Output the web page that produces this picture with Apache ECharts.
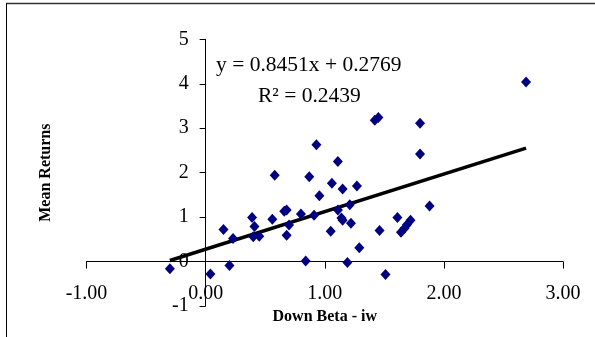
<!DOCTYPE html>
<html>
<head>
<meta charset="utf-8">
<script src="https://cdn.jsdelivr.net/npm/echarts@6/dist/echarts.min.js"></script>
<style>
    html, body { margin: 0; padding: 0; background: #fff; }
    #chart { width: 595px; height: 337px; }
</style>
</head>
<body>
<div id="chart"></div>
<script>
// Down Beta (x) and Mean Returns (y)
const downBeta = [-0.30, 0.04, 0.15, 0.20, 0.23, 0.39, 0.41, 0.40, 0.45, 0.56,
    0.58, 0.66, 0.68, 0.68, 0.70, 0.80, 0.84, 0.87, 0.91, 0.93,
    0.955, 1.05, 1.06, 1.11, 1.11, 1.15, 1.14, 1.15, 1.19, 1.21,
    1.22, 1.27, 1.29, 1.42, 1.45, 1.46, 1.51, 1.61, 1.64, 1.67,
    1.69, 1.72, 1.80, 1.80, 1.88, 2.69];
const meanReturns = [-0.16, -0.28, 0.72, -0.09, 0.52, 0.99, 0.79, 0.56, 0.57, 0.95,
    1.94, 1.13, 1.16, 0.59, 0.82, 1.07, 0.01, 1.91, 1.04, 2.63,
    1.48, 0.68, 1.76, 2.25, 1.16, 1.63, 0.98, 0.93, -0.02, 1.28,
    0.86, 1.70, 0.31, 3.18, 3.24, 0.70, -0.29, 0.99, 0.66, 0.75,
    0.83, 0.93, 3.11, 2.42, 1.25, 4.04];
const slope = 0.8451;
const intercept = 0.2769;
const r2 = 0.2439;
const xTicks = [-1, 0, 1, 2, 3];
const yTicks = [-1, 0, 1, 2, 3, 4, 5];

const points = downBeta.map((x, i) => [x, meanReturns[i]]);
const xMin = Math.min(...downBeta);
const xMax = Math.max(...downBeta);
const trend = [xMin, xMax].map(x => [x, slope * x + intercept]);

const W = 595, H = 337;
const grid = { left: 86.5, right: 32, top: 39.3, bottom: 31 };
const plotW = W - grid.left - grid.right;
const plotH = H - grid.top - grid.bottom;
const xLo = xTicks[0], xHi = xTicks[xTicks.length - 1];
const yLo = yTicks[0], yHi = yTicks[yTicks.length - 1];
// axes cross at zero, like the original: shift each axis in from the grid edge
const xAxisOffset = -(0 - yLo) / (yHi - yLo) * plotH;
const yAxisOffset = -(0 - xLo) / (xHi - xLo) * plotW;

const serif = '"Liberation Serif", "DejaVu Serif", serif';
const chart = echarts.init(document.getElementById('chart'));

const option = {
    backgroundColor: '#fff',
    animation: false,
    grid: Object.assign({ outerBoundsMode: 'none', containLabel: false }, grid),
    xAxis: {
        type: 'value',
        min: xLo,
        max: xHi,
        interval: 1,
        position: 'bottom',
        offset: xAxisOffset,
        name: 'Down Beta - iw',
        nameLocation: 'middle',
        nameGap: 47,
        nameTextStyle: { fontFamily: serif, fontWeight: 'bold', fontSize: 16, color: '#000' },
        axisLine: { onZero: false, lineStyle: { color: '#000', width: 1 } },
        axisTick: { length: 7, lineStyle: { color: '#000' } },
        axisLabel: {
            margin: 22,
            fontFamily: serif, fontSize: 20, color: '#000',
            formatter: v => v.toFixed(2)
        },
        splitLine: { show: false }
    },
    yAxis: {
        type: 'value',
        min: yLo,
        max: yHi,
        interval: 1,
        position: 'left',
        offset: yAxisOffset,
        name: 'Mean Returns',
        nameLocation: 'middle',
        nameGap: 152,
        nameRotate: 90,
        nameTextStyle: { fontFamily: serif, fontWeight: 'bold', fontSize: 16, color: '#000' },
        axisLine: { show: true, onZero: false, lineStyle: { color: '#000', width: 1 } },
        axisTick: { show: true, length: 6, lineStyle: { color: '#000' } },
        axisLabel: { margin: 17, fontFamily: serif, fontSize: 20, color: '#000' },
        splitLine: { show: false }
    },
    graphic: [
        // frame lines top and left
        { type: 'line', shape: { x1: 6, y1: 3.5, x2: 595, y2: 3.5 }, style: { stroke: '#333', lineWidth: 1.5 } },
        { type: 'line', shape: { x1: 6.5, y1: 3, x2: 6.5, y2: 337 }, style: { stroke: '#000', lineWidth: 1 } },
        {
            type: 'text', left: 216, top: 54,
            style: { text: 'y = ' + slope + 'x + ' + intercept, font: '21.5px ' + serif, fill: '#000' }
        },
        {
            type: 'text', left: 258, top: 85,
            style: { text: 'R² = ' + r2, font: '21.5px ' + serif, fill: '#000' }
        }
    ],
    series: [
        {
            type: 'line',
            data: trend,
            symbol: 'none',
            lineStyle: { color: '#000', width: 3.5 },
            z: 3
        },
        {
            type: 'scatter',
            data: points,
            symbol: 'diamond',
            symbolSize: [10, 11],
            itemStyle: { color: '#000080', opacity: 1 },
            z: 4,
            // vertical axis line at x = 0 (backs up the y axis line)
            markLine: {
                silent: true,
                symbol: 'none',
                label: { show: false },
                lineStyle: { color: '#000', width: 1, type: 'solid' },
                data: [{ xAxis: 0 }]
            }
        }
    ]
};
chart.setOption(option);
</script>
</body>
</html>
